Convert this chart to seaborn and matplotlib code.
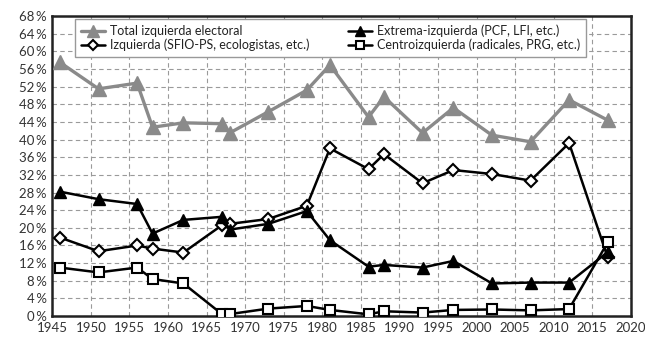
import numpy as np
import pandas as pd
import matplotlib
matplotlib.use("Agg")
import matplotlib.pyplot as plt
import seaborn as sns
from matplotlib.ticker import FuncFormatter, MultipleLocator

# Legislative election years
years = [1946, 1951, 1956, 1958, 1962, 1967, 1968, 1973, 1978, 1981,
         1986, 1988, 1993, 1997, 2002, 2007, 2012, 2017]

total_izq = [57.5, 51.5, 52.8, 42.8, 43.8, 43.6, 41.5, 46.3, 51.2, 56.9,
             45.1, 49.7, 41.5, 47.2, 41.0, 39.5, 49.0, 44.4]
extrema_izq = [28.2, 26.5, 25.4, 18.7, 21.8, 22.5, 19.6, 20.9, 23.8, 17.2,
               11.2, 11.6, 11.0, 12.5, 7.4, 7.6, 7.6, 14.5]
izquierda = [17.8, 14.7, 16.0, 15.3, 14.4, 20.6, 20.9, 22.0, 25.0, 38.0,
             33.3, 36.7, 30.1, 33.1, 32.2, 30.7, 39.2, 13.3]
centro_izq = [11.0, 9.9, 11.0, 8.4, 7.4, 0.45, 0.45, 1.7, 2.3, 1.4,
              0.4, 1.1, 0.8, 1.4, 1.5, 1.3, 1.6, 16.7]

labels = ["Total izquierda electoral",
          "Izquierda (SFIO-PS, ecologistas, etc.)",
          "Extrema-izquierda (PCF, LFI, etc.)",
          "Centroizquierda (radicales, PRG, etc.)"]

sns.set_style("white")
plt.rcParams["font.family"] = ["Lato", "DejaVu Sans"]

fig = plt.figure(figsize=(6.45, 3.41), dpi=100)
ax = fig.add_axes([0.081, 0.073, 0.897, 0.88])

gray = "#8a8a8a"
series = [
    (total_izq, labels[0], dict(color=gray, lw=2.4, marker="^", ms=10,
                                mfc=gray, mec=gray)),
    (izquierda, labels[1], dict(color="black", lw=1.8, marker="D", ms=6.5,
                                mfc="white", mec="black", mew=1.5)),
    (extrema_izq, labels[2], dict(color="black", lw=1.8, marker="^", ms=9,
                                  mfc="black", mec="black")),
    (centro_izq, labels[3], dict(color="black", lw=1.8, marker="s", ms=7.5,
                                 mfc="white", mec="black", mew=1.5)),
]

for vals, lab, st in series:
    df = pd.DataFrame({"year": years, "value": vals})
    sns.lineplot(data=df, x="year", y="value", ax=ax, label=lab,
                 color=st["color"], linewidth=st["lw"], marker=st["marker"],
                 markersize=st["ms"], markerfacecolor=st["mfc"],
                 markeredgecolor=st["mec"], markeredgewidth=st.get("mew", 1),
                 zorder=3)

ax.set_xlim(1945, 2020)
ax.set_ylim(0, 68)
ax.xaxis.set_major_locator(MultipleLocator(5))
ax.yaxis.set_major_locator(MultipleLocator(4))
ax.yaxis.set_major_formatter(FuncFormatter(lambda v, p: f"{v:.0f}\u2009%"))
ax.set_xlabel("")
ax.set_ylabel("")
ax.grid(True, color="#9a9a9a", linestyle=(0, (4, 3)), linewidth=0.8)
ax.set_axisbelow(True)
for s in ax.spines.values():
    s.set_color("#222222")
    s.set_linewidth(1.8)
ax.tick_params(axis="both", labelsize=9.5, colors="#333333", length=0, pad=4)

handles, _ = ax.get_legend_handles_labels()
leg = ax.legend(handles, labels, ncol=2, loc="upper left",
                bbox_to_anchor=(0.04, 0.99),
                fontsize=9, frameon=True, fancybox=False, framealpha=1,
                edgecolor="#999999", handlelength=1.9, handletextpad=0.4,
                borderpad=0.45, labelspacing=0.1, columnspacing=3.1,
                borderaxespad=0, markerscale=0.8)
leg.get_frame().set_linewidth(1.0)
for t in leg.get_texts():
    t.set_color("#222222")

fig.savefig("out.png", dpi=100)
